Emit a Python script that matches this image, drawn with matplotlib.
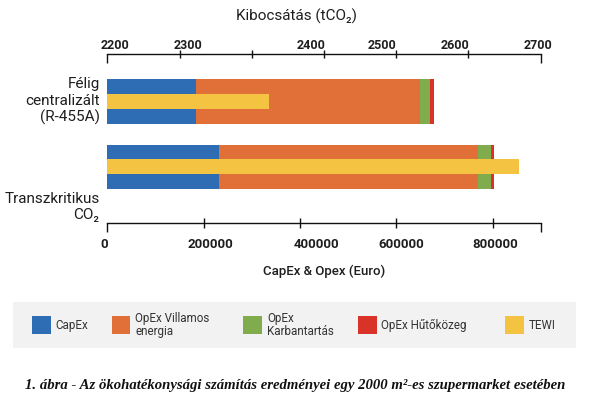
import matplotlib
matplotlib.use("Agg")
import matplotlib.pyplot as plt
import matplotlib.transforms as mtransforms
from matplotlib.patches import Rectangle
import numpy as np

# ---------------- data ----------------
categories = ["Félig\ncentralizált\n(R-455A)", "Transzkritikus\nCO₂"]
capex = [185000, 232000]
opex_villamos = [465000, 537000]
opex_karbantartas = [21000, 28000]
opex_hutokozeg = [7000, 5000]
tewi = [2386, 2675]

series_names = ["CapEx", "OpEx Villamos\nenergia", "OpEx\nKarbantartás", "OpEx Hűtőközeg", "TEWI"]
colors = ["#2E6DB4", "#E07038", "#80AC4E", "#D93229", "#F5C342"]

bottom_ticks = [200000, 400000, 600000, 800000]
bottom_labels = ["200000", "400000", "600000", "800000"]
bottom_end_ticks = [0, 900000]
bottom_end_labels = ["0", ""]
top_min, top_max = 2200, 2700
top_ticks_all = list(np.linspace(top_min, top_max, 7))
top_labels_all = ["2200", "2300", "", "2400", "2500", "2600", "2700"]

plt.rcParams["font.family"] = ["Roboto", "DejaVu Sans"]
TXT = "#1e1e1e"

W, H = 596, 405
fig = plt.figure(figsize=(W / 100, H / 100), dpi=100)
fig.patch.set_facecolor("white")

def fx(px):
    return px / W

def fy(py):
    return (H - py) / H

ax = fig.add_axes([fx(107.3), fy(222.5), fx(540.7) - fx(107.3), fy(53.5) - fy(222.5)])
ax.set_facecolor("none")

ypos = np.arange(len(categories))
bh = 0.68
left = np.zeros(len(categories))
for vals, c in zip([capex, opex_villamos, opex_karbantartas, opex_hutokozeg], colors[:4]):
    ax.barh(ypos, vals, left=left, height=bh, color=c, linewidth=0)
    left = left + np.array(vals)

ax.set_xlim(0, 900000)
ax.set_ylim(1.856, -0.736)

for s in ["top", "left", "right"]:
    ax.spines[s].set_visible(False)
ax.spines["bottom"].set_linewidth(1.0)
ax.spines["bottom"].set_color("#111111")

ax.set_xticks(bottom_ticks, labels=bottom_labels, fontweight="bold", fontsize=9.5, color=TXT)
ax.set_xticks(bottom_end_ticks, labels=bottom_end_labels, minor=True, fontweight="bold", fontsize=9.5, color=TXT)
ax.tick_params(axis="x", which="major", direction="inout", length=6.5, width=1.0, pad=8.1, color="#111111")
ax.tick_params(axis="x", which="minor", direction="out", length=6.5, width=1.0, pad=4.9, color="#111111")

ax.set_yticks(ypos, labels=categories, fontsize=11, color=TXT)
ax.tick_params(axis="y", length=0, pad=5.6)

# top axis (TEWI)
ax2 = ax.twiny()
ax2.set_facecolor("none")
ax2.barh(ypos, np.array(tewi) - top_min, left=top_min, height=bh / 3, color=colors[4], linewidth=0)
ax2.set_xlim(top_min, top_max)
for s in ["bottom", "left", "right"]:
    ax2.spines[s].set_visible(False)
ax2.spines["top"].set_linewidth(1.0)
ax2.spines["top"].set_color("#111111")
ax2.set_xticks(top_ticks_all[1:-1], labels=top_labels_all[1:-1], fontweight="bold", fontsize=9, color=TXT)
ax2.set_xticks([top_ticks_all[0], top_ticks_all[-1]], labels=[top_labels_all[0], top_labels_all[-1]],
               minor=True, fontweight="bold", fontsize=9, color=TXT)
ax2.tick_params(axis="x", which="major", direction="inout", length=5.8, width=1.0, pad=-1.7, color="#111111")
ax2.tick_params(axis="x", which="minor", direction="in", length=6.5, width=1.0, pad=1.15, color="#111111")

# small label offsets (px) as in reference
def shift(labels, dxs, dys=None):
    if dys is None:
        dys = [0] * len(dxs)
    for lab, dx, dy in zip(labels, dxs, dys):
        lab.set_transform(lab.get_transform() + mtransforms.ScaledTranslation(dx / 100, dy / 100, fig.dpi_scale_trans))

shift(ax.xaxis.get_majorticklabels(), [7, 17, 5, 2.7])
shift(ax.xaxis.get_minorticklabels(), [-3, 0])
shift(ax2.xaxis.get_majorticklabels(), [8.5, 0, -13, -14, -13])
shift(ax2.xaxis.get_minorticklabels(), [8, -2.5])
shift(ax.yaxis.get_majorticklabels(), [0, 0], [3, -38])

# axis titles
fig.text(fx(296.7), fy(20.7), "Kibocsátás (tCO₂)", ha="center", va="baseline", fontsize=11, color=TXT)
fig.text(fx(324), fy(274.5), "CapEx & Opex (Euro)", ha="center", va="baseline", fontsize=9.5,
         fontweight="medium", color=TXT)

# legend panel
lax = fig.add_axes([0, 0, 1, 1])
lax.set_xlim(0, W)
lax.set_ylim(H, 0)
lax.axis("off")
lax.set_zorder(-1)
lax.add_patch(Rectangle((13, 302), 563, 46, facecolor="#F2F2F2", edgecolor="none"))
sw_x = [32.3, 111.7, 243.3, 358.3, 505]
tx_x = [55, 135, 267.3, 380.7, 528.3]
for name, c, sx, tx in zip(series_names, colors, sw_x, tx_x):
    lax.add_patch(Rectangle((sx, 316), 18.5, 18.3, facecolor=c, edgecolor="none"))
    lax.text(tx, 325.2, name, ha="left", va="center", fontsize=8.4, color="#333333", linespacing=0.95)

cap = fig.text(fx(295.4), fy(385), "1. ábra - Az ökohatékonysági számítás eredményei egy 2000 m²-es szupermarket esetében",
               ha="center", va="center", fontsize=9, fontweight="bold", fontstyle="italic",
               family=["Liberation Serif", "DejaVu Serif"], color="#111111")
fig.canvas.draw()
r = fig.canvas.get_renderer()
wpx = cap.get_window_extent(r).width
cap.set_fontsize(9 * 540 / wpx)

fig.savefig("out.png", dpi=100)
